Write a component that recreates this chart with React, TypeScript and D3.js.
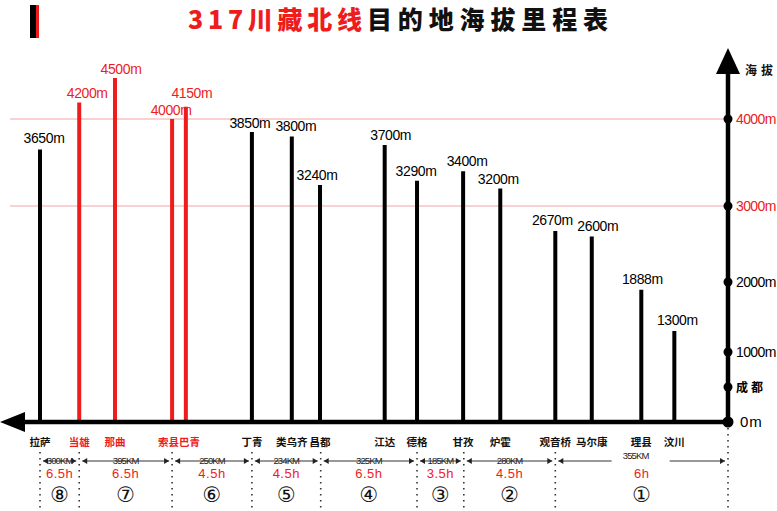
import React from "react";
import * as d3 from "d3";

// ---- data ----
const stations = ["拉萨", "当雄", "那曲", "索县", "巴青", "丁青", "类乌齐", "昌都", "江达", "德格", "甘孜", "炉霍", "观音桥", "马尔康", "理县", "汶川"];
const altitudes = [3650, 4200, 4500, 4000, 4150, 3850, 3800, 3240, 3700, 3290, 3400, 3200, 2670, 2600, 1888, 1300];
const labelGroups = [["拉萨"], ["当雄"], ["那曲"], ["索县", "巴青"], ["丁青"], ["类乌齐"], ["昌都"], ["江达"], ["德格"], ["甘孜"], ["炉霍"], ["观音桥"], ["马尔康"], ["理县"], ["汶川"]];

const segKm = ["300KM", "395KM", "250KM", "234KM", "325KM", "185KM", "280KM", "355KM"];
const segHours = ["6.5h", "6.5h", "4.5h", "4.5h", "6.5h", "3.5h", "4.5h", "6h"];
const segNo = ["⑧", "⑦", "⑥", "⑤", "④", "③", "②", "①"];

const altTicks = [0, 500, 1000, 2000, 3000, 4000];
const altTickLabels = ["0m", "成都", "1000m", "2000m", "3000m", "4000m"];
const gridAlts = [3000, 4000];

// ---- layout (not data) ----
// relative position of each stop along the drawn route (0 = 拉萨, 100 = 成都 axis)
const routePos = [0, 5.7, 10.9, 19.2, 21.2, 30.8, 36.6, 40.7, 50.1, 54.8, 61.5, 66.9, 74.9, 80.2, 87.4, 92.2];
const segBounds = [0, 5.7, 19.2, 30.8, 40.8, 54.8, 61.6, 74.9, 100];
// nudges of the value labels
const labelDx = [4, 8, 6, -1, 6, -2, 4, -3, 6, -1, 4, -2, -3, 6, 1, 3];
const labelDy = [-6, -5, -4, -4, -9, -4, -5, -5, -5, -5, -5, -5, -6, -5, -6, -6];

const W = 777;
const H = 511;
const RED = "#ee1c1c";
const CJK = "'Noto Sans CJK SC', sans-serif";
const LAT = "'Liberation Sans', Arial, sans-serif";

const x = d3.scaleLinear().domain([0, 100]).range([40, 728]);
const y = d3.scaleLinear().domain([0, 1000, 2000, 3000, 4000, 4500]).range([422, 352, 282, 206, 119, 78]);

const isHigh = (v: number) => v >= 4000;

function Arrow({ x1, x2, yy }: { x1: number; x2: number; yy: number }) {
  return (
    <g fill="#222">
      <path d={`M${x1},${yy} l5,-3 l0,6 z`} />
      <path d={`M${x2},${yy} l-5,-3 l0,6 z`} />
    </g>
  );
}

export default function App() {
  const y0 = y(0);
  const axisX = x(100);
  return (
    <svg width={W} height={H} style={{ position: "absolute", left: 0, top: 0, background: "#fff" }}>
      <rect x={0} y={0} width={W} height={H} fill="#fff" />
      {/* corner decoration */}
      <rect x={30} y={5} width={6} height={33} fill="#000" />
      <rect x={36} y={5} width={3} height={33} fill={RED} />
      {/* title */}
      <text x={188} y={29} fontFamily={CJK} fontWeight={900} fontSize={25} fill={RED} textLength={174} lengthAdjust="spacing">317川藏北线</text>
      <text x={367} y={29} fontFamily={CJK} fontWeight={900} fontSize={25} fill="#111" textLength={241} lengthAdjust="spacing">目的地海拔里程表</text>

      {/* grid lines */}
      {gridAlts.map((g) => (
        <line key={g} x1={10} x2={axisX} y1={y(g)} y2={y(g)} stroke="#f5a3a3" strokeWidth={1} />
      ))}

      {/* bars */}
      {altitudes.map((v, i) => (
        <line key={stations[i]} x1={x(routePos[i])} x2={x(routePos[i])} y1={y0} y2={y(v)} stroke={isHigh(v) ? RED : "#000"} strokeWidth={4} />
      ))}
      {/* value labels */}
      {altitudes.map((v, i) => (
        <text key={"l" + i} x={x(routePos[i]) + labelDx[i]} y={y(v) + labelDy[i]} textAnchor="middle" fontFamily={LAT} fontSize={14} letterSpacing={-0.4} fill={isHigh(v) ? RED : "#000"}>
          {v}m
        </text>
      ))}

      {/* horizontal axis with left arrow */}
      <line x1={20} x2={axisX} y1={y0} y2={y0} stroke="#000" strokeWidth={4.5} />
      <path d={`M0,${y0} L25,${y0 - 10} L25,${y0 + 10} Z`} fill="#000" />

      {/* vertical axis with arrow */}
      <line x1={axisX} x2={axisX} y1={y0} y2={70} stroke="#000" strokeWidth={4.5} />
      <path d={`M${axisX},48 L${axisX - 12},74 L${axisX + 12},74 Z`} fill="#000" />
      <text x={745} y={75} fontFamily={CJK} fontWeight={700} fontSize={12} letterSpacing={4} fill="#111">海拔</text>
      {altTicks.map((t, i) => {
        const yy = y(t);
        const lbl = altTickLabels[i];
        const red = gridAlts.includes(t);
        const cn = lbl === "成都";
        return (
          <g key={t}>
            <circle cx={axisX} cy={yy} r={t === 0 ? 5.5 : 4.5} fill="#000" />
            <text x={t === 0 ? 740 : 736} y={yy + 5} fontFamily={cn ? CJK : LAT} fontWeight={cn ? 700 : 400} fontSize={cn ? 12 : t === 0 ? 15 : 14} letterSpacing={cn ? 3 : t === 0 ? 1 : -0.6} fill={red ? RED : "#000"}>
              {lbl}
            </text>
          </g>
        );
      })}

      {/* station labels */}
      {labelGroups.map((grp) => {
        const idx = grp.map((n) => stations.indexOf(n));
        const cx = d3.mean(idx, (k) => x(routePos[k])) as number;
        const red = idx.some((k) => isHigh(altitudes[k]));
        return (
          <text key={grp.join("")} x={cx} y={446} textAnchor="middle" fontFamily={CJK} fontWeight={700} fontSize={10.5} fill={red ? RED : "#111"}>
            {grp.join("")}
          </text>
        );
      })}

      {/* segment dividers */}
      {segBounds.map((b, i) => (
        <line key={"d" + i} x1={x(b)} x2={x(b)} y1={i === segBounds.length - 1 ? 428 : 452} y2={H} stroke="#333" strokeWidth={1.6} strokeDasharray="1.6 4.4" />
      ))}

      {/* segments */}
      {segKm.map((km, i) => {
        const a = x(segBounds[i]) + 3;
        const b = x(segBounds[i + 1]) - 3;
        const mid = (a + b) / 2;
        const wide = b - a > 120;
        return (
          <g key={"s" + i}>
            {wide ? (
              <>
                <line x1={a} x2={mid - 30} y1={461} y2={461} stroke="#333" strokeWidth={1} />
                <line x1={mid + 28} x2={b} y1={461} y2={461} stroke="#333" strokeWidth={1} />
              </>
            ) : (
              <line x1={a} x2={b} y1={461} y2={461} stroke="#333" strokeWidth={1} />
            )}
            <Arrow x1={a} x2={b} yy={461} />
            <text x={wide ? mid - 6 : mid} y={wide ? 459 : 463.5} textAnchor="middle" fontFamily={LAT} fontSize={9.5} letterSpacing={-0.9} fill="#222">{km}</text>
            <text x={mid} y={477.5} textAnchor="middle" fontFamily={LAT} fontSize={13} letterSpacing={0.5} fill={RED}>{segHours[i]}</text>
            <text x={mid} y={495} textAnchor="middle" dominantBaseline="central" fontFamily="'DejaVu Sans', sans-serif" fontSize={21} fill="#111">{segNo[i]}</text>
          </g>
        );
      })}
    </svg>
  );
}
